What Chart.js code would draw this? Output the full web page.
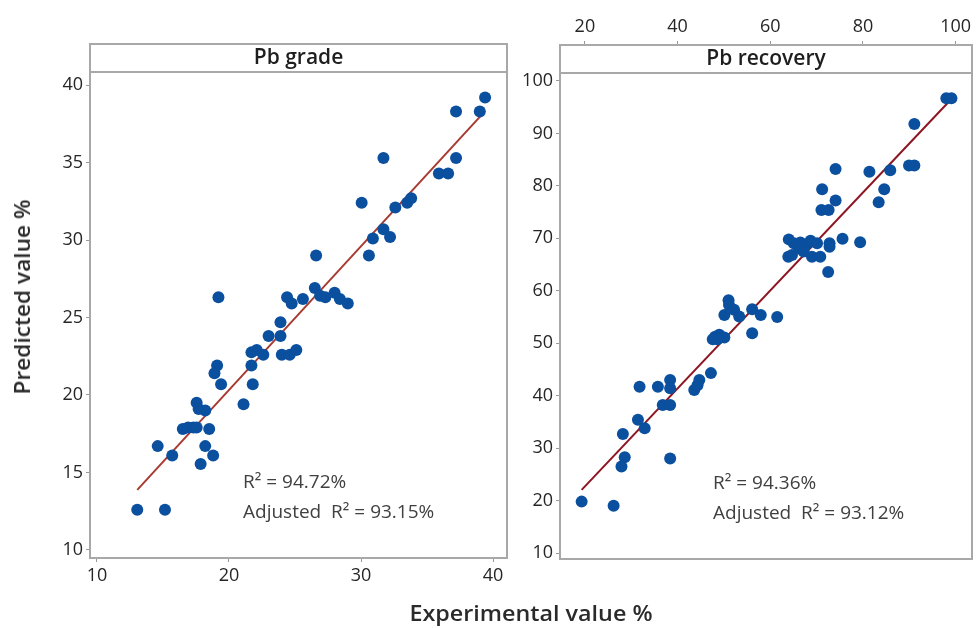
<!DOCTYPE html>
<html>
<head>
<meta charset="utf-8">
<script src="https://cdn.jsdelivr.net/npm/chart.js@4"></script>
<style>
body { margin: 0; background: #fff; width: 978px; height: 628px; overflow: hidden; position: relative; font-family: "Open Sans", sans-serif; }
canvas { position: absolute; top: 0; }
#gradeChart { left: 0; }
#recChart { left: 505px; }
.ytitle { position: absolute; left: 22px; top: 297px; transform: translate(-50%, -50%) rotate(-90deg) scaleX(1.08); font-size: 21px; font-weight: 600; color: #2a2a2a; white-space: nowrap; }
.xtitle { position: absolute; left: 531px; top: 612px; transform: translate(-50%, -50%) scaleX(1.06); font-size: 22px; font-weight: 600; color: #2a2a2a; white-space: nowrap; }
</style>
</head>
<body>
<canvas id="gradeChart" width="520" height="628"></canvas>
<canvas id="recChart" width="473" height="628"></canvas>
<div class="ytitle">Predicted value %</div>
<div class="xtitle">Experimental value %</div>
<script>
// values
const gradeExp = [39.4, 37.2, 39.0, 31.7, 37.2, 35.9, 36.6, 30.05, 32.6, 33.5, 33.8, 30.9, 31.7, 32.2, 30.6, 26.6,
    19.2, 24.4, 24.75, 25.6, 26.5, 26.9, 27.3, 28.0, 28.4, 29.0, 23.9, 23.0, 23.9, 21.7, 22.1, 22.6, 24.0, 24.6, 25.1,
    21.7, 21.8, 21.1, 19.1, 18.9, 19.4, 17.55, 17.7, 18.2, 16.5, 16.9, 17.3, 17.55, 18.5, 14.6, 15.7, 18.2, 18.8,
    17.85, 13.05, 15.15];
const gradePred = [39.2, 38.3, 38.3, 35.3, 35.3, 34.3, 34.3, 32.4, 32.1, 32.4, 32.7, 30.1, 30.7, 30.2, 29.0, 29.0,
    26.3, 26.3, 25.9, 26.2, 26.9, 26.4, 26.3, 26.6, 26.2, 25.9, 24.7, 23.8, 23.8, 22.75, 22.9, 22.6, 22.6, 22.6, 22.9,
    21.9, 20.7, 19.4, 21.9, 21.4, 20.7, 19.5, 19.1, 19.0, 17.8, 17.9, 17.9, 17.9, 17.8, 16.7, 16.1, 16.7, 16.1,
    15.55, 12.6, 12.6];

const recExp = [98.0, 99.1, 91.1, 89.95, 91.1, 74.1, 81.4, 85.9, 71.2, 84.6, 74.1, 83.4, 71.05, 72.6, 64.0, 65.1,
    66.5, 67.6, 68.7, 70.1, 72.8, 72.8, 75.6, 79.4, 63.9, 64.7, 66.2, 67.2, 69.0, 70.8, 72.5, 51.0, 51.1, 50.1, 52.2,
    53.3, 56.1, 57.95, 61.5, 56.1, 48.1, 49.0, 50.1, 48.6, 47.6, 47.2, 43.6, 44.3, 44.7, 38.4, 38.4, 36.8, 38.4,
    31.8, 35.75, 31.45, 32.9, 28.2, 28.6, 27.9, 38.4, 19.3, 26.2];
const recPred = [96.7, 96.7, 91.8, 83.9, 83.9, 83.2, 82.7, 83.0, 79.35, 79.35, 77.2, 76.9, 75.4, 75.4, 69.8, 69.05,
    69.2, 68.7, 69.55, 69.05, 69.05, 68.4, 69.9, 69.25, 66.5, 66.8, 68.1, 67.5, 66.5, 66.5, 63.6, 58.2, 57.3, 55.4, 56.4,
    55.1, 56.5, 55.4, 55.0, 51.9, 51.25, 51.6, 51.1, 50.75, 50.75, 44.3, 41.1, 42.0, 43.0, 43.0, 41.4, 38.2, 38.2,
    41.7, 41.7, 35.4, 33.8, 32.7, 28.25, 26.5, 28.0, 19.8, 19.0];

const gradeXTicks = [10, 20, 30, 40];
const gradeYTicks = [10, 15, 20, 25, 30, 35, 40];
const recXTicks = [20, 40, 60, 80, 100];
const recYTicks = [10, 20, 30, 40, 50, 60, 70, 80, 90, 100];

const gradeStats = { r2: '94.72%', adj: '93.15%' };
const recStats = { r2: '94.36%', adj: '93.12%' };

// least squares line through the points
function fitLine(xs, ys) {
    const n = xs.length;
    const mx = xs.reduce((a, b) => a + b, 0) / n;
    const my = ys.reduce((a, b) => a + b, 0) / n;
    let sxy = 0, sxx = 0;
    for (let i = 0; i < n; i++) {
        sxy += (xs[i] - mx) * (ys[i] - my);
        sxx += (xs[i] - mx) * (xs[i] - mx);
    }
    const b = sxy / sxx, a = my - b * mx;
    const lo = Math.min(...xs), hi = Math.max(...xs);
    return [{ x: lo, y: a + b * lo }, { x: hi, y: a + b * hi }];
}

function axis(pos, min, max, ticks, size) {
    return {
        type: 'linear', position: pos, min: min, max: max,
        afterBuildTicks: s => { s.ticks = ticks.map(v => ({ value: v })); },
        afterFit: s => { if (s.isHorizontal()) s.height = size; else s.width = size; },
        grid: { drawOnChartArea: false, drawTicks: true, tickLength: 4, color: '#999', lineWidth: 1 },
        border: { display: false },
        ticks: { font: { family: 'Open Sans', size: 18, weight: '500' }, color: '#262626', padding: 3, maxRotation: 0 }
    };
}

// frame, header strip and R² text
const panelPlugin = {
    id: 'panel',
    afterDatasetsDraw(chart, args, opts) {
        const ctx = chart.ctx, a = chart.chartArea;
        ctx.save();
        ctx.fillStyle = '#fff';
        ctx.fillRect(a.left, a.top, a.right - a.left, 28);
        ctx.strokeStyle = '#a8a8a8';
        ctx.lineWidth = 2;
        ctx.strokeRect(a.left, a.top, a.right - a.left, a.bottom - a.top);
        ctx.beginPath();
        ctx.moveTo(a.left, a.top + 28);
        ctx.lineTo(a.right, a.top + 28);
        ctx.stroke();
        ctx.fillStyle = '#1e1e1e';
        ctx.font = '600 21px "Open Sans"';
        ctx.textAlign = 'center';
        ctx.textBaseline = 'middle';
        ctx.fillText(opts.title, (a.left + a.right) / 2, a.top + 14);
        ctx.font = '19px "Open Sans"';
        ctx.fillStyle = '#404040';
        ctx.textAlign = 'left';
        ctx.fillText('R\u00b2 = ' + opts.r2, a.left + 153, a.top + 439);
        ctx.fillText('Adjusted  R\u00b2 = ' + opts.adj, a.left + 153, a.top + 469);
        ctx.restore();
    }
};

function makeChart(id, xs, ys, lineColor, stats, title, scales, padding) {
    const pts = xs.map((x, i) => ({ x: x, y: ys[i] }));
    return new Chart(document.getElementById(id), {
        type: 'scatter',
        data: {
            datasets: [
                { data: pts, pointRadius: 6, pointHoverRadius: 6, backgroundColor: '#0b4f9f', borderWidth: 0, order: 1 },
                { data: fitLine(xs, ys), showLine: true, pointRadius: 0, borderColor: lineColor, borderWidth: 2, order: 2 }
            ]
        },
        options: {
            responsive: false,
            animation: false,
            devicePixelRatio: 1,
            layout: { padding: padding },
            scales: scales,
            plugins: {
                legend: { display: false },
                tooltip: { enabled: false },
                panel: { title: title, r2: stats.r2, adj: stats.adj }
            }
        },
        plugins: [panelPlugin]
    });
}

makeChart('gradeChart', gradeExp, gradePred, '#a83a32', gradeStats, 'Pb grade', {
    x: axis('bottom', 9.47, 41.06, gradeXTicks, 35),
    y: axis('left', 9.48, 42.65, gradeYTicks, 90)
}, { left: 0, top: 44, right: 13, bottom: 35 });

makeChart('recChart', recExp, recPred, '#8e1522', recStats, 'Pb recovery', {
    x: axis('top', 14.63, 103.54, recXTicks, 45),
    y: axis('left', 8.86, 106.86, recYTicks, 55)
}, { left: 0, top: 0, right: 4, bottom: 69 });
</script>
</body>
</html>
